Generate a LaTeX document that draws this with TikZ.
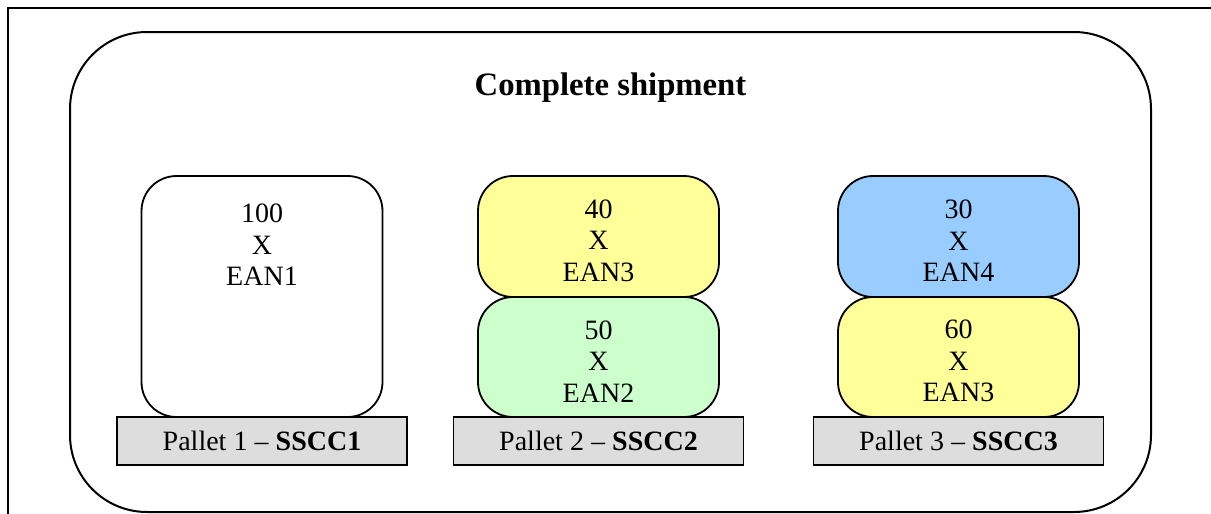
\documentclass[tikz,border=0pt]{standalone}
\usepackage{fontspec}
\setmainfont{Liberation Serif}
\usepackage{tikz}
\usetikzlibrary{positioning}

\definecolor{cartonyellow}{HTML}{FFFF99}
\definecolor{cartongreen}{HTML}{CCFFCC}
\definecolor{cartonblue}{HTML}{99CCFF}
\definecolor{palletgray}{HTML}{DDDDDD}

\newcommand{\cartonlabel}[2]{\rule{0pt}{27pt}#1\\X\\#2}

\begin{document}
\begin{tikzpicture}[x=1pt,y=-1pt,
		carton/.style={draw,line width=1.8pt,rounded corners=35pt,minimum width=241pt,outer sep=0pt,align=center,font=\fontsize{28}{31.5}\selectfont},
		pallet/.style={draw,line width=1.8pt,fill=palletgray,minimum width=290pt,minimum height=48pt,outer sep=0pt,font=\fontsize{28}{31.5}\selectfont}]
		\useasboundingbox (0,0) rectangle (1211,514);
		\draw[line width=2.6pt] (8,514) -- (8,8) -- (1211,8);

		\node[draw,line width=2pt,rounded corners=77pt,minimum width=1081pt,minimum height=480pt,outer sep=0pt] (shipment) at (610.5,272) {};
		\node[anchor=base,font=\fontsize{32.7}{36}\selectfont\bfseries] (title) at ([yshift=-63pt]shipment.north) {Complete shipment};

		% pallet 1
		\node[pallet] (pal1) at (262,441) {Pallet 1 -- \textbf{SSCC1}};
		\node[carton,fill=white,minimum height=241pt,above=0pt of pal1] (ean1) {};
		\node[anchor=north,align=center,font=\fontsize{28}{31.5}\selectfont] (ean1txt) at ([yshift=-16pt]ean1.north) {\cartonlabel{100}{EAN1}};

		% pallet 2
		\node[pallet] (pal2) at (598.5,441) {Pallet 2 -- \textbf{SSCC2}};
		\node[carton,fill=cartongreen,minimum height=120pt,above=0pt of pal2] (ean2) {\cartonlabel{50}{EAN2}};
		\node[carton,fill=cartonyellow,minimum height=121pt,above=0pt of ean2] (ean3a) {\cartonlabel{40}{EAN3}};

		% pallet 3
		\node[pallet] (pal3) at (958.5,441) {Pallet 3 -- \textbf{SSCC3}};
		\node[carton,fill=cartonyellow,minimum height=120pt,above=0pt of pal3] (ean3b) {\cartonlabel{60}{EAN3}};
		\node[carton,fill=cartonblue,minimum height=121pt,above=0pt of ean3b] (ean4) {\cartonlabel{30}{EAN4}};
	\end{tikzpicture}
\end{document}
